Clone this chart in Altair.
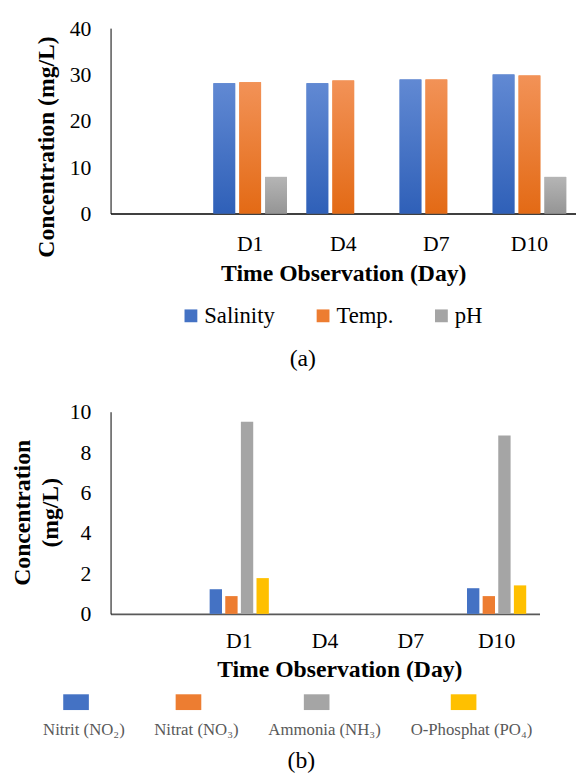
import altair as alt
import pandas as pd

# ---------------- data ----------------
x_domain = ["", "D1", "D4", "D7", "D10"]   # leading empty category as in the original
days = ["D1", "D4", "D7", "D10"]

series_a = ["Salinity", "Temp.", "pH"]
salinity = [28.1, 28.1, 28.9, 30.0]
temp = [28.3, 28.7, 28.9, 29.8]
ph = [7.9, None, None, 7.9]
colors_a = ["#4472C4", "#ED7D31", "#A5A5A5"]
grad_top_a = ["#6189D3", "#F29257", "#B5B5B5"]
grad_bot_a = ["#2F60B8", "#E36A15", "#959595"]
ticks_a = [0, 10, 20, 30, 40]

series_b = ["Nitrit (NO₂)", "Nitrat (NO₃)", "Ammonia (NH₃)", "O-Phosphat (PO₄)"]
nitrit = [1.22, None, None, 1.27]
nitrat = [0.88, None, None, 0.88]
ammonia = [9.51, None, None, 8.83]
phosphat = [1.77, None, None, 1.41]
colors_b = ["#4472C4", "#ED7D31", "#A5A5A5", "#FFC000"]
ticks_b = [0, 2, 4, 6, 8, 10]


def long(series, cols):
    rows = []
    for s, vals in zip(series, cols):
        for d, v in zip(days, vals):
            if v is not None:
                rows.append({"day": d, "series": s, "value": v})
    return pd.DataFrame(rows)


df_a = long(series_a, [salinity, temp, ph])
df_b = long(series_b, [nitrit, nitrat, ammonia, phosphat])

FONT = "Liberation Serif"

# ---------------- panel (a) ----------------
xa = alt.X(
    "day:N",
    scale=alt.Scale(domain=x_domain, paddingInner=0.21, paddingOuter=0.105),
    axis=alt.Axis(
        title="Time Observation (Day)", labelAngle=0, ticks=False, tickSize=0,
        labelPadding=20, labelFont=FONT, labelFontSize=22, labelColor="black",
        domainColor="black", domainWidth=1.5,
        titleFont=FONT, titleFontSize=24, titleFontWeight="bold", titleColor="black",
        titleY=49, titleBaseline="top",
    ),
)
ya = alt.Y(
    "value:Q",
    scale=alt.Scale(domain=[0, 40]),
    axis=alt.Axis(
        values=ticks_a, grid=False, ticks=False, tickSize=0, labelPadding=20,
        labelFont=FONT, labelFontSize=22, labelColor="black",
        domainColor="black", domainWidth=1,
        title="Concentration (mg/L)", titleFont=FONT, titleFontSize=24,
        titleFontWeight="bold", titleColor="black", titleAngle=270,
        titleX=-65, titleY=120, titleBaseline="middle", titleAlign="center",
    ),
)
xoa = alt.XOffset("series:N", scale=alt.Scale(domain=series_a, paddingInner=0.16, paddingOuter=0))

base_a = alt.Chart(df_a).mark_bar().encode(
    x=xa, xOffset=xoa, y=ya,
    color=alt.Color(
        "series:N",
        scale=alt.Scale(domain=series_a, range=colors_a),
        legend=alt.Legend(
            title=None, orient="none", legendX=70, legendY=280, direction="horizontal",
            columns=3, symbolType="square", symbolSize=169, symbolStrokeWidth=0,
            labelFont=FONT, labelFontSize=23, labelColor="black", labelOffset=2,
            columnPadding=37, padding=0, labelLimit=300,
        ),
    ),
)

grad_layers = []
for s, top, bot in zip(series_a, grad_top_a, grad_bot_a):
    grad = alt.Gradient(
        gradient="linear", x1=0, x2=0, y1=0, y2=1,
        stops=[alt.GradientStop(color=top, offset=0), alt.GradientStop(color=bot, offset=1)],
    )
    grad_layers.append(
        alt.Chart(df_a).transform_filter(alt.datum.series == s)
        .mark_bar(fill=grad).encode(x=xa, xOffset=xoa, y=ya)
    )

chart_a = alt.layer(base_a, *grad_layers).properties(
    width=472, height=188,
    title=alt.TitleParams(
        text="(a)", orient="bottom", font=FONT, fontSize=24, fontWeight="normal",
        color="black", anchor="middle", dx=-41, offset=20,
    ),
)

# ---------------- panel (b) ----------------
xb = alt.X(
    "day:N",
    scale=alt.Scale(domain=x_domain, paddingInner=0.31, paddingOuter=0.155),
    axis=alt.Axis(
        title="Time Observation (Day)", labelAngle=0, ticks=False, tickSize=0,
        labelPadding=17, labelFont=FONT, labelFontSize=22, labelColor="black",
        domainColor="#595959", domainWidth=2,
        titleFont=FONT, titleFontSize=24, titleFontWeight="bold", titleColor="black",
        titleY=44, titleX=232, titleBaseline="top",
    ),
)
yb = alt.Y(
    "value:Q",
    scale=alt.Scale(domain=[0, 10]),
    axis=alt.Axis(
        values=ticks_b, grid=False, ticks=False, tickSize=0, labelPadding=20,
        labelFont=FONT, labelFontSize=22, labelColor="black",
        domainColor="black", domainWidth=1,
        title=["Concentration", "(mg/L)"], titleFont=FONT, titleFontSize=24,
        titleFontWeight="bold", titleColor="black", titleAngle=270,
        titleX=-89, titleY=102, titleBaseline="middle", titleAlign="center",
        titleLineHeight=28,
    ),
)
xob = alt.XOffset("series:N", scale=alt.Scale(domain=series_b, paddingInner=0.21, paddingOuter=0))

chart_b = alt.Chart(df_b).mark_bar().encode(
    x=xb, xOffset=xob, y=yb,
    color=alt.Color(
        "series:N",
        scale=alt.Scale(domain=series_b, range=colors_b),
        legend=alt.Legend(
            title=None, orient="none", legendX=-53, legendY=302, direction="horizontal",
            columns=4, symbolType="M-0.615,-2.19H1.385V-0.96H-0.615Z", symbolSize=676,
            symbolStrokeWidth=0, labelAlign="center", labelBaseline="top",
            labelOffset=0, labelFont=FONT, labelFontSize=17, labelColor="#595959",
            columnPadding=29, padding=0, labelLimit=300,
        ),
    ),
).properties(
    width=435, height=205,
    title=alt.TitleParams(
        text="(b)", orient="bottom", font=FONT, fontSize=24, fontWeight="normal",
        color="black", anchor="middle", dx=-24, offset=11,
    ),
)

chart = alt.vconcat(chart_a, chart_b, spacing=201, bounds="flush").properties(
    padding={"left": 3, "top": 4, "right": 0, "bottom": 0}
).resolve_scale(color="independent", x="independent", xOffset="independent", y="independent").configure_view(
    stroke=None
)

chart.save("out.html", embed_options={"renderer": "svg", "actions": False})
